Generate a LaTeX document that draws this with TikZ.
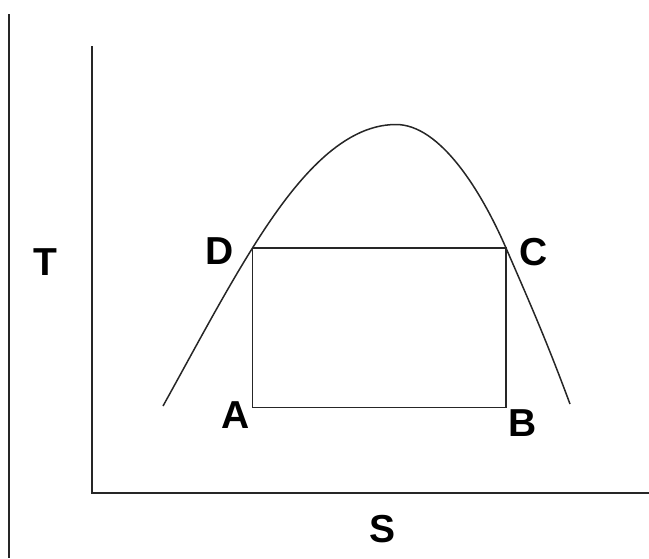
\documentclass[tikz,border=0pt]{standalone}
\usepackage{fontspec}
\setmainfont{Liberation Sans}
\begin{document}
\begin{tikzpicture}[x=1pt,y=-1pt,
  lbl/.style={font=\fontsize{39}{39}\selectfont\bfseries, inner sep=0pt, anchor=center},
  axisline/.style={line width=2.2pt, draw=black!85},
  rectline/.style={line width=1.8pt, draw=black!85},
  curveline/.style={line width=1.5pt, draw=black!85}]
\useasboundingbox (0,0) rectangle (649,558);
% left edge line
\coordinate (edgetop) at (9,14);
\coordinate (edgebot) at (9,558);
\draw[axisline] (edgetop) -- (edgebot);
% axes
\coordinate (yaxtop) at (92,46);
\coordinate (origin) at (92,493);
\coordinate (xaxend) at (649,493);
\draw[axisline] (yaxtop) -- (origin) -- (xaxend);
% cycle corners
\coordinate (A) at (252.5,407.5);
\coordinate (B) at (506,407.5);
\coordinate (C) at (506,248);
\coordinate (D) at (252.5,248);
\draw[rectline] (A) -- (B) -- (C) -- (D) -- cycle;
% saturation dome
\coordinate (domeL) at (163,406);
\coordinate (peak) at (396,124.5);
\coordinate (domeR) at (570,404);
\draw[curveline] (domeL) .. controls (193,352) and (222.5,296) .. (D)
  .. controls (292.5,184) and (340,124.5) .. (peak)
  .. controls (440,124.5) and (481,190.5) .. (C)
  .. controls (531,305.5) and (547,342) .. (domeR);
% labels
\node[lbl] (labT) at (45,262) {T};
\node[lbl] (labS) at (383,529) {S};
\node[lbl] (labD) at (220,251) {D};
\node[lbl] (labC) at (534,252) {C};
\node[lbl] (labA) at (236,415) {A};
\node[lbl] (labB) at (523,423) {B};
\end{tikzpicture}
\end{document}
